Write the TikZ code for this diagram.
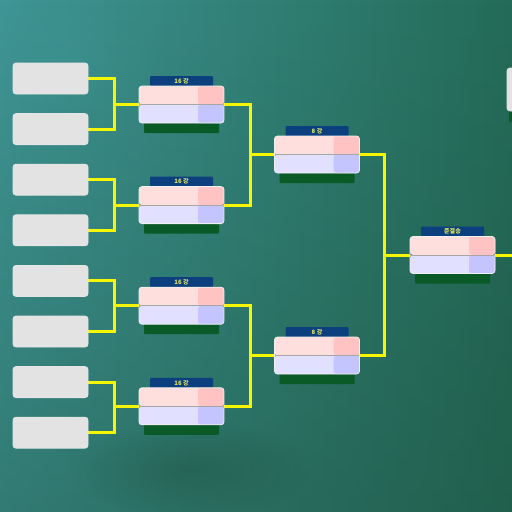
\documentclass[tikz,border=0pt]{standalone}
\usepackage{fontspec}
\newfontfamily\krfont{Noto Sans CJK KR}
\usetikzlibrary{fadings}
\definecolor{bgteal}{HTML}{3F9595}
\definecolor{bgdeep}{HTML}{246B58}
\definecolor{bgdark}{HTML}{1A4A36}
\definecolor{wireyellow}{HTML}{F6F600}
\definecolor{entrygray}{HTML}{E3E3E3}
\definecolor{pinklight}{HTML}{FFDEDE}
\definecolor{pinkdark}{HTML}{FFC3C3}
\definecolor{lavlight}{HTML}{E2E0FF}
\definecolor{lavdark}{HTML}{C4C4FF}
\definecolor{tabblue}{HTML}{0B3F7D}
\definecolor{tabgreen}{HTML}{0A5A27}
\definecolor{tabtext}{HTML}{E8EC60}
\tikzfading[name=fadedown, top color=transparent!100, bottom color=transparent!0]
\tikzfading[name=blob, inner color=transparent!0, outer color=transparent!100]
\pgfdeclarelayer{bg}
\pgfdeclarelayer{wires}
\pgfsetlayers{bg,wires,main}
\tikzset{
  entry/.style={draw=white!80!gray, line width=0.8pt, fill=entrygray, rounded corners=3pt,
    minimum width=75pt, minimum height=31pt, inner sep=0pt},
  matchbox/.style={draw=white!88!gray, line width=0.8pt, rounded corners=3pt,
    minimum width=85pt, minimum height=37pt, inner sep=0pt,
    path picture={
      \fill[pinklight] (path picture bounding box.north west) rectangle (path picture bounding box.east);
      \fill[pinkdark] ([xshift=-26pt]path picture bounding box.north east) rectangle (path picture bounding box.east);
      \fill[lavlight] (path picture bounding box.west) rectangle (path picture bounding box.south east);
      \fill[lavdark] ([xshift=-26pt]path picture bounding box.east) rectangle (path picture bounding box.south east);
      \draw[gray!70, line width=0.6pt] (path picture bounding box.west) -- (path picture bounding box.east);
    }},
  roundtab/.style={fill=tabblue, rounded corners=1pt, minimum width=63pt, minimum height=10pt,
    inner sep=0pt, text=tabtext, font=\krfont\bfseries\fontsize{6}{7}\selectfont},
  wire/.style={draw=wireyellow, line width=3pt}
}
\newcommand{\matchnode}[4]{%
  \fill[tabgreen, rounded corners=1pt] (#2-37.5,#3) rectangle (#2+37.5,#3+28.5);
  \node[roundtab] at (#2,#3-23.5) {#4};
  \node[matchbox] (#1) at (#2,#3) {};
}
\begin{document}
\begin{tikzpicture}[x=1pt, y=-1pt]
  \useasboundingbox (0,0) rectangle (512,512);
  \clip (0,0) rectangle (512,512);
  \begin{pgfonlayer}{bg}
    \shade[left color=bgteal, right color=bgdeep] (0,0) rectangle (512,512);
    \fill[bgdark, path fading=fadedown, fill opacity=0.35] (0,0) rectangle (512,512);
    \fill[bgdark, path fading=blob, fill opacity=0.35] (190,470) ellipse (120 and 50);
    \fill[bgteal, path fading=blob, fill opacity=0.3] (60,60) ellipse (110 and 70);
  \end{pgfonlayer}

  \foreach \i in {1,...,8}{
    \node[entry] (p\i) at (50.5, {78.5+50.6*(\i-1)}) {};
  }
  \foreach \i in {1,...,4}{
    \pgfmathsetmacro\cy{104.5+100.6*(\i-1)}
    \matchnode{r\i}{181.5}{\cy}{16 강}
  }
  \matchnode{q1}{317}{154.5}{8 강}
  \matchnode{q2}{317}{355.5}{8 강}
  \matchnode{s1}{452.5}{255}{준결승}

  \fill[tabgreen] (509,111) rectangle (530,122);
  \fill[entrygray, draw=white!80!gray, line width=0.8pt, rounded corners=3pt] (507,68) rectangle (590,111);
  \coordinate (edge) at (512,255);

  \begin{pgfonlayer}{wires}
    \foreach \i/\a/\b in {1/1/2, 2/3/4, 3/5/6, 4/7/8}{
      \draw[wire] (p\a.east) -- ++(26,0) |- (r\i.west);
      \draw[wire] (p\b.east) -- ++(26,0) |- (r\i.west);
    }
    \draw[wire] (r1.east) -- ++(26,0) |- (q1.west);
    \draw[wire] (r2.east) -- ++(26,0) |- (q1.west);
    \draw[wire] (r3.east) -- ++(26,0) |- (q2.west);
    \draw[wire] (r4.east) -- ++(26,0) |- (q2.west);
    \draw[wire] (q1.east) -- ++(25,0) |- (s1.west);
    \draw[wire] (q2.east) -- ++(25,0) |- (s1.west);
    \draw[wire] (s1) -- (edge);
  \end{pgfonlayer}
\end{tikzpicture}
\end{document}
